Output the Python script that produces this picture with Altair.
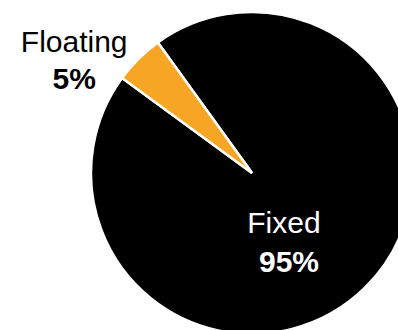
import altair as alt
import pandas as pd
import math

categories = ["Fixed", "Floating"]
shares = [95, 5]
pct_labels = ["95%", "5%"]
colors = ["#000000", "#F6A524"]
order = [1, 2]

df = pd.DataFrame({"cat": categories, "value": shares, "pct": pct_labels, "ord": order})

start = math.radians(-35.8)
theta_scale = alt.Scale(range=[start, start + 2 * math.pi])

CX, CY = 252, 173

base = alt.Chart(df).encode(
    theta=alt.Theta("value:Q", stack=True, scale=theta_scale),
    order=alt.Order("ord:Q"),
    x=alt.value(CX),
    y=alt.value(CY),
)

pie = base.mark_arc(outerRadius=161, stroke="white", strokeWidth=2.5).encode(
    color=alt.Color("cat:N", scale=alt.Scale(domain=categories, range=colors), legend=None)
)

FONT = "Liberation Sans"
SIZE = 30

def label(field, cat, radius, dx, dy, color, weight):
    return base.mark_text(
        radius=radius, dx=dx, dy=dy, font=FONT, fontSize=SIZE,
        fontWeight=weight, align="center", baseline="alphabetic", color=color,
    ).encode(
        text=alt.Text(f"{field}:N"),
        opacity=alt.condition(alt.datum.cat == cat, alt.value(1), alt.value(0)),
    )

fl_name = label("cat", "Floating", 180, -51, 6.5, "#000000", "normal")
fl_pct = label("pct", "Floating", 180, -51, 44, "#000000", "bold")
fx_name = label("cat", "Fixed", 100, -38.5, -10.5, "#ffffff", "normal")
fx_pct = label("pct", "Fixed", 100, -33.5, 28, "#ffffff", "bold")

chart = alt.layer(pie, fl_name, fl_pct, fx_name, fx_pct).properties(
    width=398, height=330, padding=0, autosize=alt.AutoSizeParams(type="none")
).configure_view(stroke=None)

chart.save("out.html", embed_options={"renderer": "svg", "actions": False})
